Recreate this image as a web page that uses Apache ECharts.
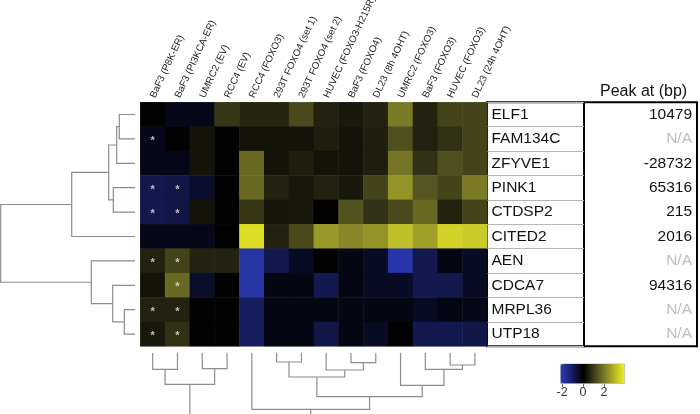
<!DOCTYPE html>
<html>
<head>
<meta charset="utf-8">
<script src="https://cdn.jsdelivr.net/npm/echarts@6/dist/echarts.min.js"></script>
<style>html,body{margin:0;padding:0;background:#fff}#c{width:700px;height:414px}</style>
</head>
<body>
<div id="c"></div>
<script>
// ---- data ----
const genes = ['ELF1','FAM134C','ZFYVE1','PINK1','CTDSP2','CITED2','AEN','CDCA7','MRPL36','UTP18'];
const conditions = ['BaF3 (P8K-ER)','BaF3 (PI3KCA-ER)','UMRC2 (EV)','RCC4 (EV)','RCC4 (FOXO3)','293T FOXO4 (set 1)','293T FOXO4 (set 2)','HUVEC (FOXO3-H215R)','BaF3 (FOXO4)','DL23 (8h 4OHT)','UMRC2 (FOXO3)','BaF3 (FOXO3)','HUVEC (FOXO3)','DL23 (24h 4OHT)'];
const peaks = ['10479','N/A','-28732','65316','215','2016','N/A','94316','N/A','N/A'];
const elf1    = [0.0,-0.3,-0.3,0.9,0.6,0.6,1.2,0.55,0.4,0.55,2.0,0.55,1.1,1.1];
const fam134c = [-0.3,0.0,0.3,0.0,0.3,0.3,0.3,0.5,0.3,0.5,1.3,0.55,0.8,1.1];
const zfyve1  = [-0.3,-0.3,0.3,0.0,1.7,0.3,0.5,0.3,0.3,0.5,1.9,0.8,1.3,1.1];
const pink1   = [-0.9,-0.8,-0.5,0.0,1.7,0.55,0.4,0.55,0.4,1.1,2.4,1.4,1.1,2.0];
const ctdsp2  = [-0.9,-0.8,0.3,0.0,0.9,0.35,0.4,0.0,1.35,0.8,1.2,1.7,0.55,1.1];
const cited2  = [-0.3,-0.3,-0.3,0.0,3.6,0.55,1.2,2.5,2.2,2.4,3.1,2.6,3.4,3.3];
const aen     = [0.55,1.1,0.55,0.55,-1.9,-0.9,-0.4,0.0,-0.2,-0.4,-2.0,-0.9,-0.2,-0.4];
const cdca7   = [0.3,1.7,-0.5,0.0,-1.9,-0.2,-0.2,-0.9,-0.2,-0.4,-0.4,-0.9,-0.9,-0.4];
const mrpl36  = [0.55,0.55,0.0,0.0,-1.1,-0.2,-0.2,-0.2,-0.2,-0.2,-0.2,-0.4,-0.2,-0.3];
const utp18   = [0.4,0.8,0.0,0.0,-1.1,-0.2,-0.2,-0.8,-0.2,-0.4,0.0,-0.9,-0.9,-0.8];
const rowsValues = [elf1,fam134c,zfyve1,pink1,ctdsp2,cited2,aen,cdca7,mrpl36,utp18];
// significant cells [row, col]
const stars = [[1,0],[3,0],[3,1],[4,0],[4,1],[6,0],[6,1],[7,1],[8,0],[8,1],[9,0],[9,1]];
// dendrograms: [childA, childB, height]; 'mK' = K-th merge
const rowMerges = [[0,1,15.7],['m0',2,18.3],[3,4,21.7],['m1','m2',26.3],['m3',5,63.3],[8,9,10.7],[7,'m5',22.3],[6,'m6',43.7],['m4','m7',134.3]];
const colMerges = [[0,1,16.6],[2,3,16],['m0','m1',31.6],[5,6,9.3],[8,9,10],[7,'m4',17.3],['m3','m5',24.3],[12,13,12.3],[11,'m7',16.6],[10,'m8',32.6],['m6','m9',44],[4,'m10',56.6],['m2','m11',75]];
const scaleMin = -2.2, scaleMax = 3.9, scaleTicks = [-2,0,2];

// ---- helpers ----
function colorOf(v){
  let r,g,b;
  if (v >= 0){ const t = Math.min(1, v/scaleMax); r = 240*t; g = 240*t; b = 120*t*(1-t) + 32*t*t; }
  else { const t = Math.min(1, -v/(-scaleMin)); r = 44*t; g = 60*t; b = 190*t; }
  return 'rgb(' + Math.round(r) + ',' + Math.round(g) + ',' + Math.round(b) + ')';
}
const stops = [];
for (let i = 0; i <= 60; i++) stops.push(colorOf(scaleMin + i*(scaleMax-scaleMin)/60));

function buildLinks(merges){
  const pos = [], hgt = [], links = [];
  const P = c => typeof c === 'number' ? c : pos[+c.slice(1)];
  const H = c => typeof c === 'number' ? 0 : hgt[+c.slice(1)];
  merges.forEach(m => {
    const pa = P(m[0]), pb = P(m[1]);
    links.push([pa, H(m[0]), pb, H(m[1]), m[2]]);
    pos.push((pa+pb)/2); hgt.push(m[2]);
  });
  return links;
}
const rowLinks = buildLinks(rowMerges);
const colLinks = buildLinks(colMerges);

const heatData = [];
rowsValues.forEach((row, r) => row.forEach((v, c) => heatData.push([c, r, v])));
const starData = stars.map(s => [s[1], s[0]]);

const lineStyle = {stroke:'#8c8c8c', lineWidth:1.2, fill:null};
const hidden = {show:false};
const G = {outerBoundsMode:'none', containLabel:false};

const chart = echarts.init(document.getElementById('c'), null, {renderer:'canvas'});
chart.setOption({
  backgroundColor:'#fff',
  animation:false,
  title:{text:'Peak at (bp)', left:600, top:84, padding:0, textStyle:{fontSize:16, fontWeight:'normal', color:'#111', fontFamily:'Liberation Sans, Arial, sans-serif'}},
  grid:[
    Object.assign({left:140.3, top:102.3, width:347, height:244}, G),
    Object.assign({left:487, top:102.3, width:97, height:244, show:true, borderColor:'#000', borderWidth:2, backgroundColor:'transparent'}, G),
    Object.assign({left:584, top:102.3, width:113, height:244, show:true, borderColor:'#000', borderWidth:2, backgroundColor:'transparent'}, G),
    Object.assign({left:0, top:102.3, width:135, height:244}, G),
    Object.assign({left:140.3, top:352.7, width:347, height:61.3}, G),
    Object.assign({left:560, top:363.5, width:64, height:19.5}, G)
  ],
  xAxis:[
    {type:'category', gridIndex:0, data:conditions, position:'top', axisLine:hidden, axisTick:hidden,
     axisLabel:{rotate:-65, margin:5, fontSize:9.8, color:'#222', fontFamily:'Liberation Sans Narrow, Arial Narrow, Liberation Sans, sans-serif', interval:0}},
    {type:'value', gridIndex:1, min:0, max:1, show:false},
    {type:'value', gridIndex:2, min:0, max:1, show:false},
    {type:'value', gridIndex:3, min:0, max:135, inverse:true, show:false},
    {type:'value', gridIndex:4, min:-0.5, max:13.5, show:false},
    {type:'value', gridIndex:5, min:scaleMin, max:scaleMax, position:'bottom', axisLine:hidden, splitLine:hidden,
     axisTick:{show:true, customValues:scaleTicks, length:4, lineStyle:{color:'#666'}},
     axisLabel:{customValues:scaleTicks, margin:3, fontSize:12.5, color:'#333', fontFamily:'Liberation Sans, Arial, sans-serif'}}
  ],
  yAxis:[
    {type:'category', gridIndex:0, data:genes, inverse:true, show:false},
    {type:'category', gridIndex:1, data:genes, inverse:true, axisLine:hidden, axisTick:hidden,
     splitLine:{show:true, lineStyle:{color:'#b5b5b5', width:1}},
     axisLabel:{inside:true, margin:4.5, fontSize:15.5, color:'#111', fontFamily:'Liberation Sans, Arial, sans-serif'}},
    {type:'category', gridIndex:2, data:genes, inverse:true, position:'right', axisLine:hidden, axisTick:hidden, splitLine:hidden,
     axisLabel:{inside:true, margin:5, fontSize:15.5, fontFamily:'Liberation Sans, Arial, sans-serif',
       formatter:(v, i) => peaks[i], color:(v, i) => peaks[genes.indexOf(v)] === 'N/A' ? '#bdbdbd' : '#111'}},
    {type:'value', gridIndex:3, min:-0.5, max:9.5, inverse:true, show:false},
    {type:'value', gridIndex:4, min:0, max:61.3, inverse:true, show:false},
    {type:'value', gridIndex:5, min:0, max:1, show:false}
  ],
  visualMap:{type:'continuous', min:scaleMin, max:scaleMax, seriesIndex:0, orient:'horizontal', left:560, top:363.5,
    itemWidth:19.5, itemHeight:64, calculable:false, padding:0, borderColor:'#bbb', borderWidth:1, hoverLink:false,
    inRange:{color:stops}},
  series:[
    {type:'heatmap', xAxisIndex:0, yAxisIndex:0, data:heatData, itemStyle:{borderWidth:0}, emphasis:{disabled:true}},
    {type:'scatter', xAxisIndex:0, yAxisIndex:0, data:starData, symbolSize:0.01, silent:true,
     label:{show:true, position:'inside', formatter:'*', color:'#e8e8e8', fontSize:11, fontWeight:'bold', offset:[0,2]}},
    {type:'custom', xAxisIndex:3, yAxisIndex:3, data:rowLinks, clip:true, silent:true,
     renderItem:(params, api) => {
       const pa = api.value(0), ha = api.value(1), pb = api.value(2), hb = api.value(3), h = api.value(4);
       const pts = [api.coord([ha, pa]), api.coord([h, pa]), api.coord([h, pb]), api.coord([hb, pb])];
       return {type:'polyline', shape:{points:pts}, style:lineStyle};
     }},
    {type:'custom', xAxisIndex:4, yAxisIndex:4, data:colLinks, clip:true, silent:true,
     renderItem:(params, api) => {
       const pa = api.value(0), ha = api.value(1), pb = api.value(2), hb = api.value(3), h = api.value(4);
       const pts = [api.coord([pa, ha]), api.coord([pa, h]), api.coord([pb, h]), api.coord([pb, hb])];
       return {type:'polyline', shape:{points:pts}, style:lineStyle};
     }},
    {type:'scatter', xAxisIndex:5, yAxisIndex:5, data:[]}
  ]
});
</script>
</body>
</html>
